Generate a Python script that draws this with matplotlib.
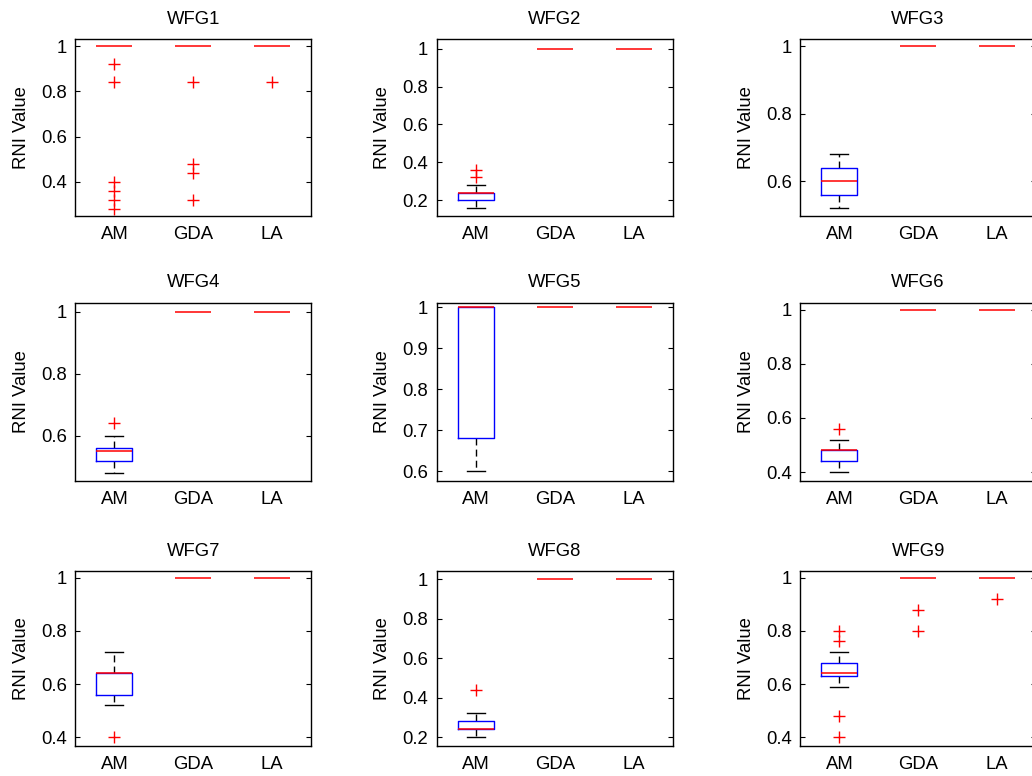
import matplotlib
matplotlib.use("Agg")
import matplotlib.pyplot as plt
from matplotlib.ticker import MultipleLocator, FormatStrFormatter

# ---------------- data ----------------
problems = ["WFG1", "WFG2", "WFG3", "WFG4", "WFG5", "WFG6", "WFG7", "WFG8", "WFG9"]
algorithms = ["AM", "GDA", "LA"]

am_q1     = [1.00, 0.20, 0.56, 0.52, 0.68, 0.44, 0.56, 0.24, 0.63]
am_med    = [1.00, 0.24, 0.60, 0.55, 1.00, 0.48, 0.64, 0.24, 0.64]
am_q3     = [1.00, 0.24, 0.64, 0.56, 1.00, 0.48, 0.64, 0.28, 0.68]
am_whislo = [1.00, 0.16, 0.52, 0.48, 0.60, 0.40, 0.52, 0.20, 0.59]
am_whishi = [1.00, 0.28, 0.68, 0.60, 1.00, 0.52, 0.72, 0.32, 0.72]
am_fliers = [[0.92, 0.84, 0.40, 0.36, 0.32, 0.28], [0.36, 0.32], [], [0.64], [],
             [0.56], [0.40], [0.44], [0.80, 0.76, 0.48, 0.40]]

gda_q1     = [1, 1, 1, 1, 1, 1, 1, 1, 1]
gda_med    = [1, 1, 1, 1, 1, 1, 1, 1, 1]
gda_q3     = [1, 1, 1, 1, 1, 1, 1, 1, 1]
gda_whislo = [1, 1, 1, 1, 1, 1, 1, 1, 1]
gda_whishi = [1, 1, 1, 1, 1, 1, 1, 1, 1]
gda_fliers = [[0.84, 0.48, 0.44, 0.32], [], [], [], [], [], [], [], [0.88, 0.80]]

la_q1     = [1, 1, 1, 1, 1, 1, 1, 1, 1]
la_med    = [1, 1, 1, 1, 1, 1, 1, 1, 1]
la_q3     = [1, 1, 1, 1, 1, 1, 1, 1, 1]
la_whislo = [1, 1, 1, 1, 1, 1, 1, 1, 1]
la_whishi = [1, 1, 1, 1, 1, 1, 1, 1, 1]
la_fliers = [[0.84], [], [], [], [], [], [], [], [0.92]]

ylabel_text = "RNI Value"

# ---------------- layout ----------------
W, H = 1032, 776
ylims = [(0.247, 1.033), (0.116, 1.051), (0.4965, 1.022),
         (0.454, 1.029), (0.5756, 1.0114), (0.367, 1.026),
         (0.367, 1.025), (0.155, 1.042), (0.367, 1.025)]
ystep = [0.2, 0.2, 0.2, 0.2, 0.1, 0.2, 0.2, 0.2, 0.2]
col_left = [75, 436.7, 800]
ax_w = 236.3
row_top = [39, 302.5, 571]
row_bot = [216, 481, 746]

plt.rcParams["font.family"] = ["Liberation Sans", "DejaVu Sans"]
fig = plt.figure(figsize=(W / 100, H / 100), dpi=100)
fig.patch.set_facecolor("white")

series = [
    (am_q1, am_med, am_q3, am_whislo, am_whishi, am_fliers),
    (gda_q1, gda_med, gda_q3, gda_whislo, gda_whishi, gda_fliers),
    (la_q1, la_med, la_q3, la_whislo, la_whishi, la_fliers),
]

for i, name in enumerate(problems):
    r, c = divmod(i, 3)
    left = col_left[c] / W
    bottom = 1 - row_bot[r] / H
    height = (row_bot[r] - row_top[r]) / H
    ax = fig.add_axes([left, bottom, ax_w / W, height])

    stats = []
    for k, alg in enumerate(algorithms):
        q1, med, q3, lo, hi, fl = series[k]
        stats.append(dict(q1=q1[i], med=med[i], q3=q3[i], whislo=lo[i],
                          whishi=hi[i], fliers=fl[i], label=alg))

    art = ax.bxp(stats, positions=[1, 2, 3], widths=0.46, capwidths=0.23,
                 showfliers=True,
                 boxprops=dict(color="#0000ff", linewidth=1.0, zorder=2),
                 medianprops=dict(color="#ff0000", linewidth=1.1, zorder=5),
                 whiskerprops=dict(color="black", linewidth=1.0,
                                   linestyle=(0, (5, 3)), zorder=1),
                 capprops=dict(color="black", linewidth=1.0, zorder=1),
                 flierprops=dict(marker="+", markeredgecolor="#ff0000",
                                 markerfacecolor="none", markersize=8.5,
                                 markeredgewidth=1.0, linestyle="none"))

    # where a box/whisker collapses onto the median, only the median is visible
    for k, s in enumerate(stats):
        if s["q1"] == s["q3"]:
            art["boxes"][k].set_visible(False)
        if s["whislo"] == s["q1"]:
            art["whiskers"][2 * k].set_visible(False)
            art["caps"][2 * k].set_visible(False)
        if s["whishi"] == s["q3"]:
            art["whiskers"][2 * k + 1].set_visible(False)
            art["caps"][2 * k + 1].set_visible(False)

    ax.set_xlim(0.5, 3.5)
    ax.set_ylim(*ylims[i])
    ax.set_xticks([1, 2, 3])
    ax.set_xticklabels(algorithms)
    ax.yaxis.set_major_locator(MultipleLocator(ystep[i]))
    ax.yaxis.set_major_formatter(FormatStrFormatter("%g"))
    ax.tick_params(axis="y", direction="in", length=3.5, width=0.8,
                   left=True, right=True, labelsize=13.3, pad=6)
    ax.tick_params(axis="x", length=0, labelsize=13.3, pad=7)
    for sp in ax.spines.values():
        sp.set_linewidth(1.0)
        sp.set_color("black")
    ax.set_title(name, fontsize=13.3, pad=11)
    ax.set_ylabel(ylabel_text, fontsize=13.3, labelpad=8)

fig.savefig("out.png", dpi=100, facecolor="white")
